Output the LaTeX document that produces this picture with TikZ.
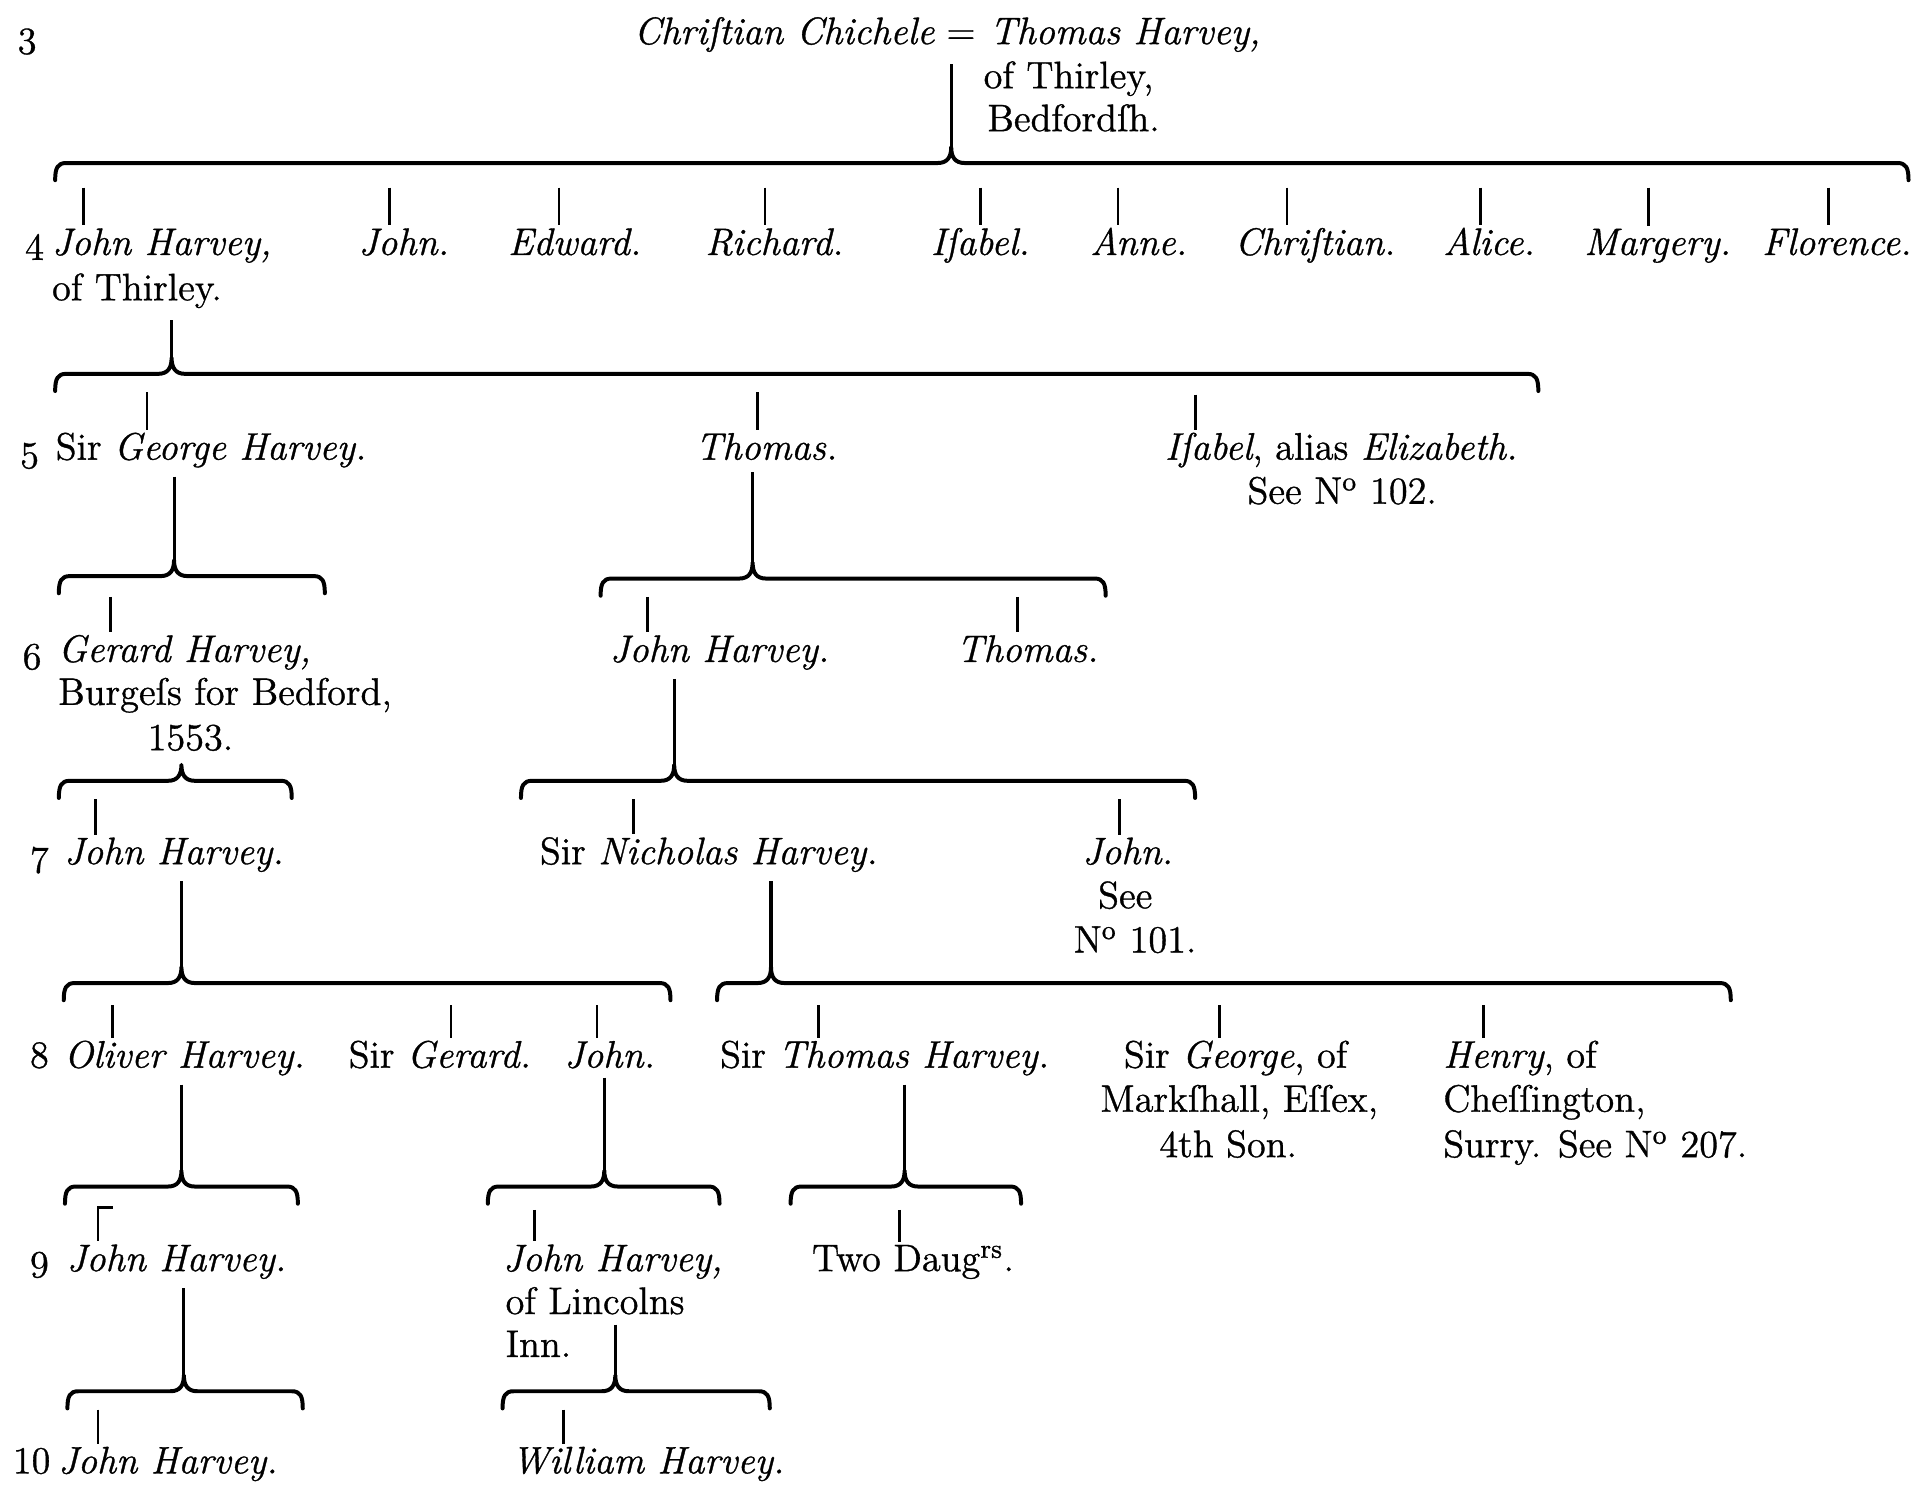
\documentclass[tikz,border=0pt]{standalone}
\usepackage{fontspec}
\setmainfont{Latin Modern Roman}[FakeBold=0.9]
\usetikzlibrary{calc}
\tikzset{
  nm/.style={inner sep=0pt, outer sep=1pt, font=\fontsize{12.5}{14}\selectfont, anchor=base west},
  nmc/.style={nm, anchor=base},
  nme/.style={nm, anchor=base east},
  brc/.style={line width=1.3pt, line cap=round, line join=round},
  tk/.style={line width=0.9pt},
  dsc/.style={line width=1pt},
}
% #1 left x, #2 right x, #3 peak x, #4 line y, #5 peak name
\newcommand\famBrace[5]{%
  \coordinate (#5) at (#3,#4-13);
  \draw[brc] (#1,#4+14) .. controls (#1,#4+4) and (#1+2,#4) .. (#1+9,#4)
    -- (#3-11,#4) .. controls (#3-3,#4) and (#3,#4-5) .. (#5)
    .. controls (#3,#4-5) and (#3+3,#4) .. (#3+11,#4)
    -- (#2-9,#4) .. controls (#2-2,#4) and (#2,#4+4) .. (#2,#4+14);}
\begin{document}
\begin{tikzpicture}[x=0.4pt,y=-0.4pt]
\fill[white] (0,0) rectangle (1568,1211);
\useasboundingbox (0,0) rectangle (1568,1211);

% generation 3
\node[nm] (g3) at (12,44) {3};
\node[nme] (wife) at (765,36) {\textit{Chriſtian Chichele}};
\node[nmc] (eq) at (784,36) {=};
\node[nm] (hus) at (805,36) {\textit{Thomas Harvey,}};
\node[nm] (hus2) at (800,72) {of Thirley,};
\node[nm] (hus3) at (803,107) {Bedfordſh.};
\famBrace{45}{1557}{776}{133}{pk1}
\draw[dsc] ($(hus.south -| pk1)+(0,-3pt)$) -- (pk1);

% generation 4
\node[nm] (g4) at (18,212) {4};
\node[nm] (c4a) at (40,208) {\textit{John Harvey,}};
\node[nm] (c4a2) at (40,245) {of Thirley.};
\node[nm] (c4b) at (290,208) {\textit{John.}};
\node[nm] (c4c) at (412,208) {\textit{Edward.}};
\node[nm] (c4d) at (573,208) {\textit{Richard.}};
\node[nm] (c4e) at (757,208) {\textit{Iſabel.}};
\node[nm] (c4f) at (887,208) {\textit{Anne.}};
\node[nm] (c4g) at (1005,208) {\textit{Chriſtian.}};
\node[nm] (c4h) at (1175,208) {\textit{Alice.}};
\node[nm] (c4i) at (1290,208) {\textit{Margery.}};
\node[nme] (c4j) at (1562,208) {\textit{Florence.}};
\coordinate (t4a) at (68,153);
\coordinate (t4b) at (318,153);
\coordinate (t4c) at (456,153);
\coordinate (t4d) at (624,153);
\coordinate (t4e) at (800,153);
\coordinate (t4f) at (912,153);
\coordinate (t4g) at (1050,153);
\coordinate (t4h) at (1208,153);
\coordinate (t4i) at (1345,153);
\coordinate (t4j) at (1492,153);
\foreach \t/\c in {t4a/c4a,t4b/c4b,t4c/c4c,t4d/c4d,t4e/c4e,t4f/c4f,t4g/c4g,t4h/c4h,t4i/c4i,t4j/c4j}
  \draw[tk] (\t) -- (\t |- \c.north);
\famBrace{45}{1255}{140}{305}{pk2}
\draw[dsc] ($(c4a2.south -| pk2)+(0,-3pt)$) -- (pk2);

% generation 5
\node[nm] (g5) at (14,382) {5};
\node[nm] (c5a) at (43,375) {Sir \textit{George Harvey.}};
\node[nm] (c5b) at (565,375) {\textit{Thomas.}};
\node[nm] (c5c) at (948,375) {\textit{Iſabel}, alias \textit{Elizabeth.}};
\node[nmc] (c5c2) at (1095,411) {See N\textsuperscript{o} 102.};
\coordinate (t5a) at (120,320);
\coordinate (t5b) at (618,320);
\coordinate (t5c) at (975,322);
\foreach \t/\c in {t5a/c5a,t5b/c5b,t5c/c5c}
  \draw[tk] (\t) -- (\t |- \c.north);
\famBrace{48}{265}{142}{470}{pk3}
\famBrace{490}{902}{614}{472}{pk4}
\draw[dsc] ($(c5a.south -| pk3)+(0,-2pt)$) -- (pk3);
\draw[dsc] ($(c5b.south -| pk4)+(0,-3pt)$) -- (pk4);

% generation 6
\node[nm] (g6) at (16,546) {6};
\node[nm] (c6a) at (45,540) {\textit{Gerard Harvey,}};
\node[nm] (c6a2) at (45,575) {Burgeſs for Bedford,};
\node[nm] (c6a3) at (118,612) {1553.};
\node[nm] (c6b) at (495,540) {\textit{John Harvey.}};
\node[nm] (c6c) at (778,540) {\textit{Thomas.}};
\coordinate (t6a) at (90,487);
\coordinate (t6b) at (528,487);
\coordinate (t6c) at (830,487);
\foreach \t/\c in {t6a/c6a,t6b/c6b,t6c/c6c}
  \draw[tk] (\t) -- (\t |- \c.north);
\famBrace{48}{238}{148}{637}{pk5}
\famBrace{425}{975}{550}{637}{pk6}
\draw[dsc] ($(c6b.south -| pk6)+(0,-2pt)$) -- (pk6);

% generation 7
\node[nm] (g7) at (22,712) {7};
\node[nm] (c7a) at (50,705) {\textit{John Harvey.}};
\node[nm] (c7b) at (438,705) {Sir \textit{Nicholas Harvey.}};
\node[nmc] (c7c) at (920,705) {\textit{John.}};
\node[nmc] (c7c2) at (918,741) {See};
\node[nmc] (c7c3) at (926,777) {N\textsuperscript{o} 101.};
\coordinate (t7a) at (78,652);
\coordinate (t7b) at (517,652);
\coordinate (t7c) at (913,652);
\foreach \t/\c in {t7a/c7a,t7b/c7b,t7c/c7c}
  \draw[tk] (\t) -- (\t |- \c.north);
\famBrace{52}{547}{148}{802}{pk7}
\famBrace{585}{1412}{629}{802}{pk8}
\draw[dsc] ($(c7a.south -| pk7)+(0,-2pt)$) -- (pk7);
\draw[dsc] ($(c7b.south -| pk8)+(0,-2pt)$) -- (pk8);

% generation 8
\node[nm] (g8) at (22,871) {8};
\node[nm] (c8a) at (50,871) {\textit{Oliver Harvey.}};
\node[nm] (c8b) at (282,871) {Sir \textit{Gerard.}};
\node[nm] (c8c) at (458,871) {\textit{John.}};
\node[nm] (c8d) at (585,871) {Sir \textit{Thomas Harvey.}};
\node[nmc] (c8e) at (1008,871) {Sir \textit{George}, of};
\node[nmc] (c8e2) at (1011,907) {Markſhall, Eſſex,};
\node[nmc] (c8e3) at (1002,944) {4th Son.};
\node[nm] (c8f) at (1175,871) {\textit{Henry}, of};
\node[nm] (c8f2) at (1175,907) {Cheſſington,};
\node[nm] (c8f3) at (1175,944) {Surry. See N\textsuperscript{o} 207.};
\coordinate (t8a) at (92,820);
\coordinate (t8b) at (368,820);
\coordinate (t8c) at (487,820);
\coordinate (t8d) at (668,820);
\coordinate (t8e) at (995,820);
\coordinate (t8f) at (1210,820);
\foreach \t/\c in {t8a/c8a,t8b/c8b,t8c/c8c,t8d/c8d,t8e/c8e,t8f/c8f}
  \draw[tk] (\t) -- (\t |- \c.north);
\famBrace{53}{243}{148}{968}{pk9}
\famBrace{398}{587}{493}{968}{pk10}
\famBrace{645}{833}{738}{968}{pk11}
\draw[dsc] ($(c8a.south -| pk9)+(0,-2pt)$) -- (pk9);
\draw[dsc] ($(c8c.south -| pk10)+(0,-2pt)$) -- (pk10);
\draw[dsc] ($(c8d.south -| pk11)+(0,-2pt)$) -- (pk11);

% generation 9
\node[nm] (g9) at (22,1042) {9};
\node[nm] (c9a) at (52,1037) {\textit{John Harvey.}};
\node[nm] (c9b) at (408,1037) {\textit{John Harvey,}};
\node[nm] (c9b2) at (410,1072) {of Lincolns};
\node[nm] (c9b3) at (410,1107) {Inn.};
\node[nm] (c9c) at (660,1037) {Two Daug\textsuperscript{rs}.};
\coordinate (t9a) at (80,985);
\coordinate (t9b) at (436,987);
\coordinate (t9c) at (734,987);
\draw[tk] ($(t9a)+(12,0)$) -- (t9a) -- (t9a |- c9a.north);
\draw[tk] (t9b) -- (t9b |- c9b.north);
\draw[tk] (t9c) -- (t9c |- c9c.north);
\famBrace{55}{247}{150}{1135}{pk12}
\famBrace{410}{628}{502}{1135}{pk13}
\draw[dsc] ($(c9a.south -| pk12)+(0,-2pt)$) -- (pk12);
\draw[dsc] ($(c9b3.north -| pk13)+(0,1pt)$) -- (pk13);

% generation 10
\node[nm] (g10) at (8,1202) {10};
\node[nm] (c10a) at (45,1202) {\textit{John Harvey.}};
\node[nm] (c10b) at (415,1202) {\textit{William Harvey.}};
\coordinate (t10a) at (80,1150);
\coordinate (t10b) at (460,1150);
\draw[tk] (t10a) -- (t10a |- c10a.north);
\draw[tk] (t10b) -- (t10b |- c10b.north);
\end{tikzpicture}
\end{document}
